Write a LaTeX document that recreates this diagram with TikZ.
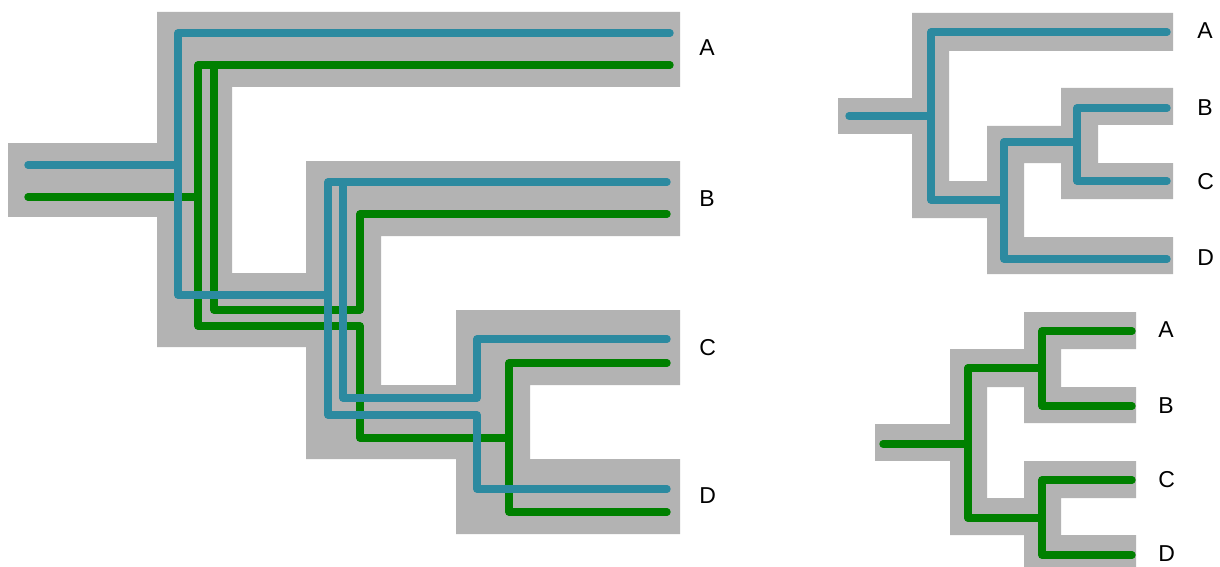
\documentclass[tikz,border=0pt]{standalone}
\usepackage{fontspec}
\setmainfont{Liberation Sans}
\definecolor{bandgray}{HTML}{B3B3B3}
\definecolor{geneblue}{HTML}{2C8AA0}
\definecolor{genegreen}{HTML}{008000}
\tikzset{
  band/.style={fill=bandgray, draw=none},
  blueline/.style={draw=geneblue, line width=3.7pt, line cap=round, line join=round},
  greenline/.style={draw=genegreen, line width=3.7pt, line cap=round, line join=round},
  taxon/.style={font=\fontsize{11.5}{13}\selectfont, anchor=west, inner sep=0pt}
}
\begin{document}
\begin{tikzpicture}[x=0.5pt, y=-0.5pt]
\useasboundingbox (0,0) rectangle (1220,567);
% ---------- left tree: species bands ----------
\fill[band] (8,143) rectangle (158,217);
\fill[band] (157,12) -- (680,12) -- (680,87) -- (232,87) -- (232,273) -- (307,273) -- (307,347) -- (157,347) -- cycle;
\fill[band] (306,161) -- (680,161) -- (680,236) -- (381,236) -- (381,385) -- (457,385) -- (457,459) -- (306,459) -- cycle;
\fill[band] (456,310) -- (680,310) -- (680,385) -- (530,385) -- (530,459) -- (680,459) -- (680,534) -- (456,534) -- cycle;
% green gene tree
\draw[greenline] (28,197) -- (198,197);
\draw[greenline] (670,65) -- (198,65) -- (198,326) -- (360,326) -- (360,438) -- (509,438);
\draw[greenline] (214,65) -- (214,310) -- (360,310) -- (360,214) -- (667,214);
\draw[greenline] (667,363) -- (509,363) -- (509,512) -- (667,512);
% blue gene tree
\draw[blueline] (28,165) -- (178,165);
\draw[blueline] (670,33) -- (178,33) -- (178,295) -- (328,295);
\draw[blueline] (667,182) -- (328,182) -- (328,415) -- (477,415) -- (477,489) -- (667,489);
\draw[blueline] (343,182) -- (343,398) -- (477,398) -- (477,339) -- (667,339);
% labels
\node[taxon] (LA) at (699,48) {A};
\node[taxon] (LB) at (699,199) {B};
\node[taxon] (LC) at (699,348) {C};
\node[taxon] (LD) at (699,496) {D};
% ---------- top right tree ----------
\fill[band] (838,98) rectangle (913,134);
\fill[band] (912,13) -- (1173,13) -- (1173,51) -- (949,51) -- (949,181) -- (988,181) -- (988,218) -- (912,218) -- cycle;
\fill[band] (987,126) -- (1061,126) -- (1061,88) -- (1173,88) -- (1173,125) -- (1098,125) -- (1098,163) -- (1173,163) -- (1173,199) -- (1061,199) -- (1061,163) -- (1024,163) -- (1024,237) -- (1173,237) -- (1173,274) -- (987,274) -- cycle;
\draw[blueline] (849,116) -- (931,116);
\draw[blueline] (1167,32) -- (931,32) -- (931,200) -- (1004,200);
\draw[blueline] (1004,142) -- (1004,259) -- (1167,259);
\draw[blueline] (1004,142) -- (1077,142);
\draw[blueline] (1167,108) -- (1077,108) -- (1077,181) -- (1167,181);
\node[taxon] (RA) at (1197,31) {A};
\node[taxon] (RB) at (1197,108) {B};
\node[taxon] (RC) at (1197,182) {C};
\node[taxon] (RD) at (1197,258) {D};
% ---------- bottom right tree ----------
\fill[band] (875,424) rectangle (951,461);
\fill[band] (950,349) -- (1025,349) -- (1025,387) -- (987,387) -- (987,498) -- (1025,498) -- (1025,535) -- (950,535) -- cycle;
\fill[band] (1024,312) -- (1136,312) -- (1136,349) -- (1061,349) -- (1061,387) -- (1136,387) -- (1136,423) -- (1024,423) -- cycle;
\fill[band] (1024,461) -- (1136,461) -- (1136,498) -- (1061,498) -- (1061,535) -- (1136,535) -- (1136,572) -- (1024,572) -- cycle;
\draw[greenline] (883,444) -- (968,444);
\draw[greenline] (968,368) -- (968,518);
\draw[greenline] (968,368) -- (1042,368);
\draw[greenline] (1132,331) -- (1042,331) -- (1042,406) -- (1132,406);
\draw[greenline] (968,518) -- (1042,518);
\draw[greenline] (1132,480) -- (1042,480) -- (1042,555) -- (1132,555);
\node[taxon] (GA) at (1158,330) {A};
\node[taxon] (GB) at (1158,406) {B};
\node[taxon] (GC) at (1158,480) {C};
\node[taxon] (GD) at (1158,554) {D};
\end{tikzpicture}
\end{document}
